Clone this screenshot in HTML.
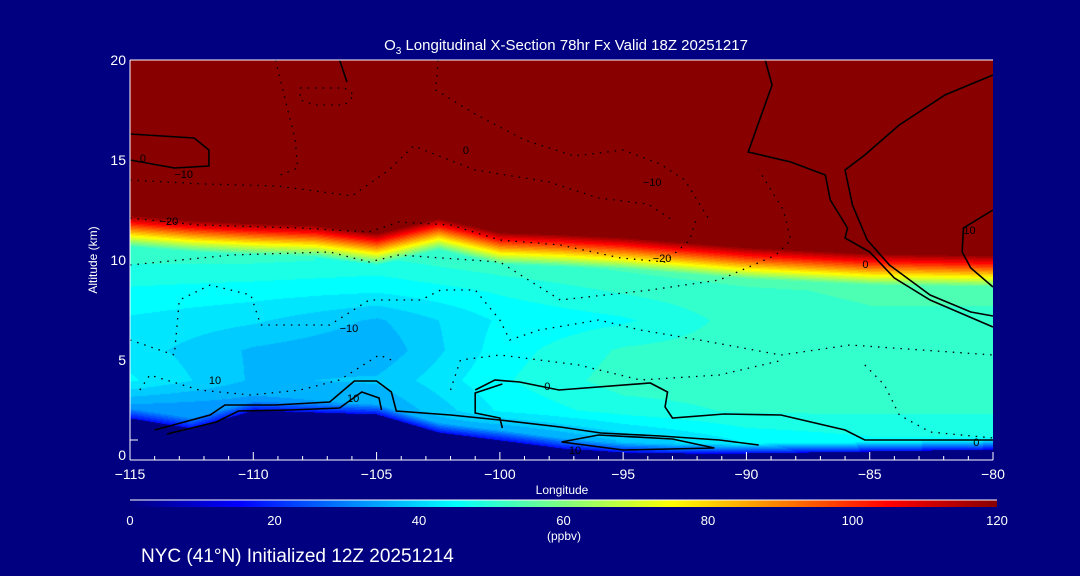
<!DOCTYPE html>
<html><head><meta charset="utf-8">
<style>
body{margin:0;background:#000080;width:1080px;height:576px;overflow:hidden;font-family:"Liberation Sans",sans-serif;color:#fff}
#wrap{position:relative;width:1080px;height:576px}
canvas{position:absolute;left:130px;top:60px}
svg{position:absolute;left:0;top:0}
</style></head>
<body>
<div id="wrap">
<canvas id="field" width="863" height="400"></canvas>
<canvas id="cbar" width="867" height="7" style="left:130px;top:500px"></canvas>
<svg id="svg" width="1080" height="576"></svg>
</div>
<script>
// ---- data ----
const gridLons = [-115,-110,-105,-100,-95,-90,-85,-80];
const gridAlts = [1,2.5,4,5.5,7,8.5,10];
const midVals = [ // rows = lons, cols = alts
  [30,32,44,42,43,46,50],
  [30,32,37,37,41,45,50],
  [32,34,38,35,37,44,49],
  [30,44,46,45,44,47,52],
  [38,48,51,50,46,50,54],
  [44,50,51,51,51,52,56],
  [46,50,51,51,52,53,57],
  [46,50,51,51,52,53,57]
];
const profLons = [-115,-112.5,-110,-107.5,-105,-102.5,-100,-97.5,-95,-92.5,-90,-87.5,-85,-82.5,-80];
const tropoKm = [12.25,12.0,11.85,11.75,11.35,12.1,11.4,11.3,11.15,10.9,10.65,10.5,10.35,10.3,10.25];
const terrainKm = [2.1,1.6,2.5,2.4,2.3,1.4,1.0,0.6,0.4,0.35,0.35,0.4,0.45,0.5,0.55];
const xTicks = [-115,-110,-105,-100,-95,-90,-85,-80];
const yTicks = [0,5,10,15,20];
const cbTicks = [0,20,40,60,80,100,120];
const solidContours = [
 [[-115,16.3],[-112.4,16.1],[-111.8,15.5],[-111.8,14.7],[-113.2,14.6],[-115,15.0]],
 [[-89.24,20],[-88.96,18.75],[-89.93,15.4],[-88.2,14.9],[-86.8,14.25],[-86.6,13],[-85.9,11.6],[-86.0,11.1],[-85.0,10.4],[-84.0,9.1],[-82.55,8.0],[-80,6.65]],
 [[-80,19.25],[-81.95,18.25],[-83.8,16.75],[-85.2,15.25],[-86.0,14.5],[-85.7,12.75],[-85.1,11.0],[-84.2,9.75],[-82.55,8.25],[-80.9,7.4],[-80,7.2]],
 [[-80,12.5],[-81.2,11.6],[-81.25,10.4],[-80.9,9.6],[-80,8.65]],
 [[-101.0,3.5],[-100.2,4.0],[-99.2,3.9],[-97.6,3.5],[-93.9,3.85],[-93.2,3.4],[-93.3,2.65],[-93.0,2.1],[-90.9,2.3],[-88.6,2.25],[-86.0,1.5],[-85.2,1.0],[-80,1.0]],
 [[-99.9,3.8],[-101,3.35],[-101.0,2.35],[-100.0,2.1],[-99.9,1.6]],
 [[-114.0,1.5],[-111.75,2.25],[-111.15,2.75],[-109.1,2.75],[-106.9,2.9],[-105.9,3.95],[-105.0,3.95],[-104.4,3.4],[-104.2,2.45],[-102.0,2.25],[-100.0,2.0],[-97.55,1.65],[-95.9,1.35],[-93.5,1.2],[-91.1,1.0],[-89.5,0.75]],
 [[-113.5,1.3],[-111.5,1.9],[-110.6,2.45],[-108.5,2.5],[-106.5,2.6],[-105.6,3.4],[-104.9,3.1],[-104.8,2.5]],
 [[-97.5,0.9],[-96,1.25],[-93,1.05],[-91.3,0.6],[-95,0.5],[-97.5,0.9]],
 [[-106.5,20],[-106.2,18.9]]
];
const dottedContours = [
 [[-115,12.1],[-112.2,11.75],[-108.1,11.6],[-105.3,11.4],[-104.1,11.9],[-102.0,11.75],[-100,11.0],[-97.55,10.75],[-95.1,10.1],[-93.3,9.9],[-92.3,11],[-92.0,12.2]],
 [[-115,9.75],[-110.9,10.25],[-106.9,10.4],[-105.3,9.9],[-104.1,10.25],[-100,9.9],[-97.55,8],[-93.9,8.5],[-91.1,9],[-88.8,10.25],[-88.2,11],[-88.5,12.5],[-89.5,14.5]],
 [[-115,6],[-113.2,5.25],[-113.0,8],[-111.75,8.75],[-110.1,8.25],[-109.7,6.75],[-106.9,6.75],[-105.3,8],[-103.2,8],[-102.4,8.5],[-101,8.5],[-100,7],[-99.6,6],[-98.4,6.5],[-96,7],[-94.3,6.5],[-91.9,6],[-88.6,5.25],[-85.8,5.75],[-80,5.25]],
 [[-114.6,3.5],[-114.2,4.25],[-112.2,3.5],[-110.1,3.25],[-108.1,3.5],[-106.5,4],[-104.9,5.25],[-104.2,4.9]],
 [[-85.2,4.75],[-84.4,3.75],[-83.8,2.25],[-82.55,1.4],[-80,1.1]],
 [[-102,3.5],[-101.6,5],[-100,5.25],[-96.8,4.75],[-94.3,4],[-91.1,4.25],[-88.5,5.0]],
 [[-109.1,20],[-108.7,18],[-108.3,16],[-108.2,14.6],[-109,14.2]],
 [[-108.1,18.6],[-106.3,18.6],[-105.9,18.25],[-106.3,17.75],[-107.5,17.75],[-108.1,18.0],[-108.1,18.6]],
 [[-102.5,20],[-102.6,18.5],[-101,17.3],[-99,16],[-97,15.2],[-95,15.5],[-93.5,14.8],[-92.5,14.0],[-91.5,12.0]],
 [[-115,14.0],[-112,13.8],[-109,13.7],[-106,13.2],[-104.5,14.5],[-103.5,15.7],[-101,14.5],[-98,13.9],[-96,13.1],[-94,12.8],[-93,12.0]]
];
const labels = [
 ["−20",-113.8,11.75],["−10",-113.2,14.1],["0",-114.6,14.9],["0",-101.5,15.3],["−10",-94.2,13.7],
 ["−20",-93.8,9.9],["0",-85.3,9.6],["10",-81.2,11.3],["−10",-106.5,6.4],["10",-111.8,3.8],
 ["10",-106.2,2.9],["0",-98.2,3.5],["0",-80.8,0.7],["10",-97.2,0.3]
];
// ---- axes ----
const X0=130,X1=993,Y0=460,Y1=60;
const xs = lon => X0 + (lon+115)/35*(X1-X0);
const ys = km => Y0 - km/20*(Y0-Y1);
function interp(arrX, arrY, x){
  if(x<=arrX[0]) return arrY[0];
  for(let i=1;i<arrX.length;i++) if(x<=arrX[i]){const t=(x-arrX[i-1])/(arrX[i]-arrX[i-1]);return arrY[i-1]+t*(arrY[i]-arrY[i-1]);}
  return arrY[arrY.length-1];
}
function mid(lon,alt){
  const col = gridLons.map((g,i)=>interp(gridAlts, midVals[i], alt));
  return interp(gridLons, col, lon);
}
function field(lon,alt){
  const ter = interp(profLons, terrainKm, lon);
  if(alt<ter) return null;
  const tp = interp(profLons, tropoKm, lon);
  let m = mid(lon,alt);
  const h = alt-ter;
  if(h<0.5) m = 16 + (m-16)*h/0.5;
  if(alt>=tp) return 120;
  const d = tp-alt;
  if(d<1.6) return 120 - d*(120-m)/1.6;
  return m;
}
const cstops=[[0,[0,0,128]],[15,[0,0,255]],[30,[0,128,255]],[45,[0,255,255]],[60,[128,255,128]],[75,[255,255,0]],[90,[255,128,0]],[105,[255,0,0]],[120,[136,0,0]]];
function color(v){
  v=Math.max(0,Math.min(120,v));
  for(let i=1;i<cstops.length;i++) if(v<=cstops[i][0]){
    const a=cstops[i-1],b=cstops[i],t=(v-a[0])/(b[0]-a[0]);
    return a[1].map((c,k)=>Math.round(c+t*(b[1][k]-c)));
  }
  return cstops[cstops.length-1][1];
}
(function(){
  const c=document.getElementById('field'),ctx=c.getContext('2d');
  const img=ctx.createImageData(c.width,c.height);
  for(let py=0;py<c.height;py++){
    const alt=(Y0-(py+60))/(Y0-Y1)*20;
    for(let px=0;px<c.width;px++){
      const lon=-115+px/(X1-X0)*35;
      let v=field(lon,alt);
      let col = v===null ? [0,0,128] : color(Math.round(v/3)*3);
      const o=(py*c.width+px)*4;
      img.data[o]=col[0];img.data[o+1]=col[1];img.data[o+2]=col[2];img.data[o+3]=255;
    }
  }
  ctx.putImageData(img,0,0);
  const cb=document.getElementById('cbar'),cx=cb.getContext('2d');
  for(let px=0;px<cb.width;px++){const col=color(px/(cb.width-1)*120);cx.fillStyle=`rgb(${col})`;cx.fillRect(px,0,1,7);}
})();
const NS='http://www.w3.org/2000/svg', svg=document.getElementById('svg');
function mk(tag,attrs,txt){const e=document.createElementNS(NS,tag);for(const k in attrs)e.setAttribute(k,attrs[k]);if(txt!==undefined)e.textContent=txt;svg.appendChild(e);return e;}
solidContours.forEach(c=>{
  const e=mk('polyline',{points:c.map(p=>xs(p[0])+','+ys(p[1])).join(' '),fill:'none',stroke:'#000','stroke-width':1.6});
  
  
});
dottedContours.forEach(c=>{
  const e=mk('polyline',{points:c.map(p=>xs(p[0])+','+ys(p[1])).join(' '),fill:'none',stroke:'#000','stroke-width':1.3,'stroke-dasharray':'1.5 6'});
  
  
});
labels.forEach(l=>{
  const e=mk('text',{x:xs(l[1]),y:ys(l[2]),'font-size':11,fill:'#000','font-family':'Liberation Sans, sans-serif'},l[0]);
  
  
});
let e=mk('line',{x1:X0,y1:Y0,x2:X1,y2:Y0,stroke:'#fff','stroke-width':1});

e=mk('line',{x1:X0,y1:Y1,x2:X1,y2:Y1,stroke:'#fff','stroke-width':1});

e=mk('line',{x1:X0,y1:Y0,x2:X0,y2:Y1,stroke:'#fff','stroke-width':1});

for(let lon=-115;lon<=-80;lon++){
  const maj=(lon%5===0);
  const t=mk('line',{x1:xs(lon),y1:Y0,x2:xs(lon),y2:Y0-(maj?8:4),stroke:'#fff'});
  
}
xTicks.forEach(v=>{
  const t=mk('text',{x:xs(v),y:Y0+19,'font-size':14,fill:'#fff','text-anchor':'middle'},(v<0?'−':'')+Math.abs(v));
  
});
[1].forEach(km=>{
  const t=mk('line',{x1:X0,y1:ys(km),x2:X0+8,y2:ys(km),stroke:'#fff'});
  
});
yTicks.forEach(v=>{
  const t=mk('text',{x:X0-4,y:ys(v)+(v===0?0:5),'font-size':14,fill:'#fff','text-anchor':'end'},String(v));
  
});
e=mk('text',{x:0,y:0,'font-size':12,fill:'#fff','text-anchor':'middle',transform:'translate(97,260) rotate(-90)'},'Altitude (km)');

e=mk('text',{x:562,y:494,'font-size':12,fill:'#fff','text-anchor':'middle'},'Longitude');

e=mk('text',{x:566,y:50,'font-size':15,fill:'#fff','text-anchor':'middle'});
e.innerHTML='O<tspan dy="4" font-size="10">3</tspan><tspan dy="-4"> Longitudinal X-Section 78hr  Fx Valid 18Z 20251217</tspan>';

e=mk('line',{x1:130,y1:500,x2:997,y2:500,stroke:'#fff'});

cbTicks.forEach(v=>{
  const t=mk('text',{x:130+v/120*867,y:525,'font-size':13,fill:'#fff','text-anchor':'middle'},String(v));
  
});
e=mk('text',{x:564,y:540,'font-size':12,fill:'#fff','text-anchor':'middle'},'(ppbv)');

e=mk('text',{x:141,y:562,'font-size':19,fill:'#fff'},'NYC (41°N) Initialized 12Z 20251214');

</script>
</body></html>
